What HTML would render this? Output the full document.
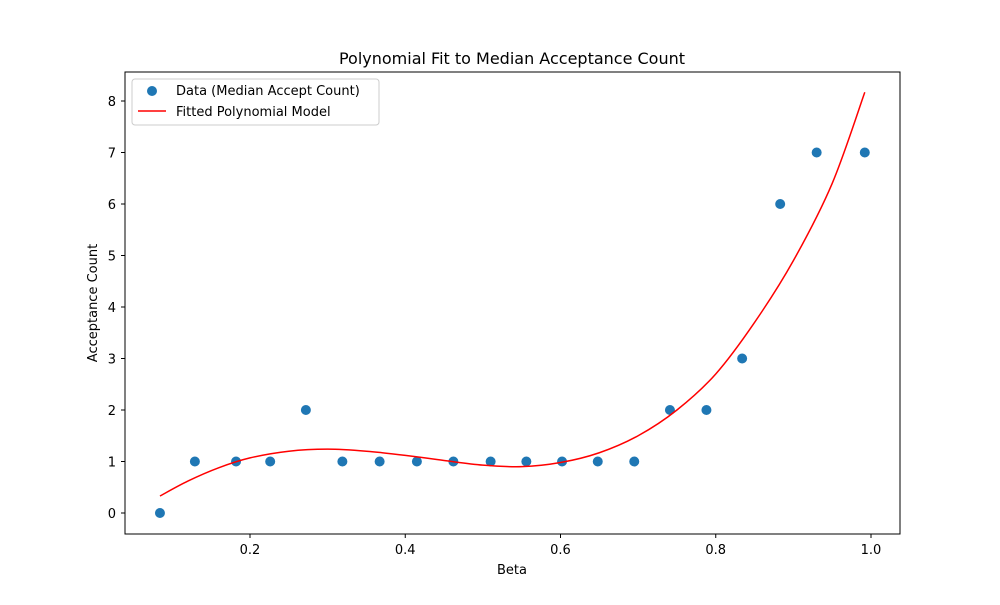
<!DOCTYPE html>
<html><head><meta charset="utf-8">
<style>
body{margin:0;background:#fff;font-family:"Liberation Sans","DejaVu Sans",sans-serif;}
svg text{font-family:"DejaVu Sans","Liberation Sans",sans-serif;}
</style></head>
<body>
<svg id="chart" width="1000" height="600" xmlns="http://www.w3.org/2000/svg">
<rect width="1000" height="600" fill="#fff"/>
<text x="512" y="64" font-size="16" text-anchor="middle">Polynomial Fit to Median Acceptance Count</text>
<g id="plot"></g>
<rect x="125" y="72" width="775" height="462" fill="none" stroke="#000" stroke-width="1"/>
<text x="512" y="574" font-size="13" text-anchor="middle">Beta</text>
<text x="0" y="0" font-size="13" text-anchor="middle" transform="translate(97,303) rotate(-90)">Acceptance Count</text>
<g>
<rect x="132" y="79" width="247" height="46" rx="3" fill="#fff" fill-opacity="0.8" stroke="#ccc"/>
<g>
<circle cx="152" cy="91" r="5" fill="#1f77b4"/>
<text x="176" y="95" font-size="13">Data (Median Accept Count)</text>
</g>
<g>
<line x1="138" y1="111" x2="166" y2="111" stroke="red" stroke-width="1.5"/>
<text x="176" y="116" font-size="13">Fitted Polynomial Model</text>
</g>
</g>
</svg>
<script>
const dataX=[0.084,0.129,0.182,0.226,0.272,0.319,0.367,0.415,0.462,0.510,0.556,0.602,0.648,0.695,0.741,0.788,0.834,0.883,0.930,0.992];
const dataY=[0,1,1,1,2,1,1,1,1,1,1,1,1,1,2,2,3,6,7,7];
const fitX=[0.084,0.12,0.16,0.2,0.25,0.3,0.35,0.4,0.45,0.5,0.55,0.6,0.65,0.7,0.75,0.8,0.85,0.9,0.95,0.992];
const fitY=[0.33,0.62,0.88,1.07,1.2,1.24,1.2,1.12,1.02,0.93,0.9,0.98,1.17,1.5,2.0,2.7,3.7,4.9,6.4,8.17];
const xTicks=[0.2,0.4,0.6,0.8,1.0];
const xTickLabels=["0.2","0.4","0.6","0.8","1.0"];
const yTicks=[0,1,2,3,4,5,6,7,8];
const ns="http://www.w3.org/2000/svg";
const sx=v=>94.75+v*776.25;
const sy=v=>513-v*51.5;
const g=document.getElementById('plot');
function mk(t,a){const e=document.createElementNS(ns,t);for(const k in a)e.setAttribute(k,a[k]);g.appendChild(e);return e;}
xTicks.forEach((v,i)=>{
 const l=mk('line',{x1:sx(v),x2:sx(v),y1:534,y2:538,stroke:'#000'});
 
 
 const t=mk('text',{x:sx(v),y:554,'font-size':13,'text-anchor':'middle'});
 t.textContent=xTickLabels[i];
 
 
});
yTicks.forEach(v=>{
 const l=mk('line',{x1:121,x2:125,y1:sy(v),y2:sy(v),stroke:'#000'});
 
 
 const t=mk('text',{x:116,y:sy(v)+5,'font-size':13,'text-anchor':'end'});
 t.textContent=String(v);
 
 
});
dataX.forEach((v,i)=>{
 const c=mk('circle',{cx:sx(v),cy:sy(dataY[i]),r:5,fill:'#1f77b4'});
 
 
});
const P=fitX.map((v,i)=>[sx(v),sy(fitY[i])]);
let d='M'+P[0][0]+','+P[0][1];
for(let i=0;i<P.length-1;i++){
 const p0=P[Math.max(0,i-1)],p1=P[i],p2=P[i+1],p3=P[Math.min(P.length-1,i+2)];
 const c1=[p1[0]+(p2[0]-p0[0])/6,p1[1]+(p2[1]-p0[1])/6];
 const c2=[p2[0]-(p3[0]-p1[0])/6,p2[1]-(p3[1]-p1[1])/6];
 d+=' C'+c1[0]+','+c1[1]+' '+c2[0]+','+c2[1]+' '+p2[0]+','+p2[1];
}
const p=mk('path',{d:d,fill:'none',stroke:'red','stroke-width':1.5});


</script>
</body></html>
